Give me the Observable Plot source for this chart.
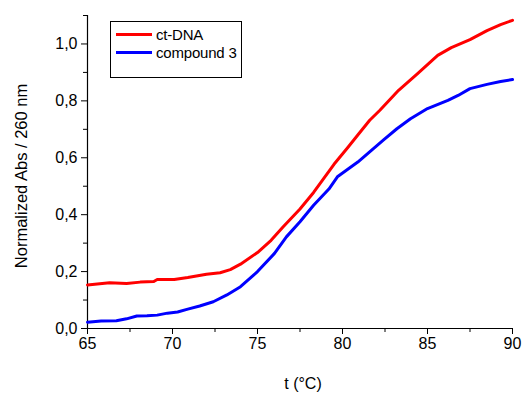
<!DOCTYPE html>
<html>
<head>
<meta charset="utf-8">
<script src="https://cdn.jsdelivr.net/npm/d3@7"></script>
<script src="https://cdn.jsdelivr.net/npm/@observablehq/plot@0.6"></script>
<style>
  html, body { margin: 0; padding: 0; background: #fff; }
  #wrap { position: relative; width: 523px; height: 394px; font-family: "Liberation Sans", Arial, sans-serif; }
  #legend { position: absolute; left: 110px; top: 21px; width: 132px; height: 57px; border: 1px solid #000; background: #fff; box-sizing: border-box; }
  .item { position: absolute; left: 5px; height: 18px; display: flex; align-items: center; font-size: 15px; color: #000; letter-spacing: -0.2px; }
  .swatch { width: 36px; height: 3px; margin-right: 4px; }
</style>
</head>
<body>
<div id="wrap"></div>
<script>
// Series names and colours
const seriesNames = ["ct-DNA", "compound 3"];
const seriesColors = ["#ff0000", "#0000ff"];

// ct-DNA
const redT = [65, 66.3, 67.3, 68.1, 68.9, 69.1, 70.1, 70.9, 72.0, 72.8, 73.4, 74.0, 75.0, 75.8, 76.5, 77.5, 78.3, 79.5, 80.3, 80.9, 81.6, 82.2, 83.3, 84.4, 85.6, 86.4, 87.5, 88.5, 89.3, 90];
const redV = [0.153, 0.161, 0.158, 0.163, 0.165, 0.172, 0.172, 0.179, 0.191, 0.196, 0.207, 0.226, 0.267, 0.31, 0.357, 0.42, 0.478, 0.577, 0.635, 0.68, 0.732, 0.767, 0.837, 0.895, 0.96, 0.987, 1.015, 1.047, 1.068, 1.083];

// compound 3
const blueT = [65, 65.8, 66.7, 67.3, 67.9, 68.5, 69.1, 69.7, 70.3, 70.9, 71.6, 72.4, 73.2, 74.0, 75.0, 76.0, 76.7, 77.5, 78.3, 79.2, 79.7, 80.9, 81.7, 82.4, 83.2, 84.0, 85.0, 86.2, 86.8, 87.5, 88.5, 89.3, 90];
const blueV = [0.022, 0.026, 0.027, 0.034, 0.044, 0.045, 0.047, 0.054, 0.058, 0.068, 0.079, 0.094, 0.118, 0.147, 0.2, 0.264, 0.322, 0.375, 0.433, 0.49, 0.533, 0.585, 0.626, 0.662, 0.702, 0.737, 0.773, 0.802, 0.819, 0.843, 0.858, 0.868, 0.875];

// Ticks
const xMajor = [65, 70, 75, 80, 85, 90];
const xMinor = [67.5, 72.5, 77.5, 82.5, 87.5];
const yMajor = [0, 0.2, 0.4, 0.6, 0.8, 1.0];
const yMinor = [0.1, 0.3, 0.5, 0.7, 0.9, 1.1];

const xLabel = "t (°C)";
const yLabel = "Normalized Abs / 260 nm";

const red = redT.map((t, i) => ({t, v: redV[i]}));
const blue = blueT.map((t, i) => ({t, v: blueV[i]}));

const chart = Plot.plot({
  width: 523,
  height: 394,
  marginLeft: 87,
  marginRight: 11,
  marginTop: 15,
  marginBottom: 66,
  x: {domain: [65, 90]},
  y: {domain: [0, 1.1]},
  style: {fontFamily: '"Liberation Sans", Arial, sans-serif', fontSize: "16px", color: "#000", background: "#fff", overflow: "visible"},
  marks: [
    Plot.axisX(xMajor, {tickSize: 6, tickPadding: 3, tickFormat: d => String(d), label: null, fontSize: 16, stroke: "#000"}),
    Plot.axisX(xMinor, {tickSize: 4, tickFormat: () => "", label: null, stroke: "#000"}),
    Plot.axisY(yMajor, {tickSize: 6, tickPadding: 4, tickFormat: d => d.toFixed(1).replace(".", ","), label: null, fontSize: 16, stroke: "#000"}),
    Plot.axisY(yMinor, {tickSize: 4, tickFormat: () => "", label: null, stroke: "#000"}),
    Plot.ruleX([65], {stroke: "#000", strokeWidth: 1.2}),
    Plot.ruleY([0], {stroke: "#000", strokeWidth: 1.2}),
    Plot.line(red, {x: "t", y: "v", stroke: seriesColors[0], strokeWidth: 3, strokeLinejoin: "round"}),
    Plot.line(blue, {x: "t", y: "v", stroke: seriesColors[1], strokeWidth: 3, strokeLinejoin: "round"})
  ]
});

const svg = d3.select(chart);
svg.append("text")
  .attr("transform", "translate(27,176) rotate(-90)")
  .attr("text-anchor", "middle")
  .attr("font-size", 16.5)
  .attr("fill", "#000")
  .text(yLabel);
svg.append("text")
  .attr("x", 303)
  .attr("y", 389)
  .attr("text-anchor", "middle")
  .attr("font-size", 16)
  .attr("fill", "#000")
  .text(xLabel);

const wrap = document.getElementById("wrap");
wrap.appendChild(chart);

const legend = document.createElement("div");
legend.id = "legend";
seriesNames.forEach((name, i) => {
  const item = document.createElement("div");
  item.className = "item";
  item.style.top = (3 + i * 18.5) + "px";
  const sw = document.createElement("span");
  sw.className = "swatch";
  sw.style.background = seriesColors[i];
  const lab = document.createElement("span");
  lab.textContent = name;
  item.appendChild(sw);
  item.appendChild(lab);
  legend.appendChild(item);
});
wrap.appendChild(legend);
</script>
</body>
</html>
